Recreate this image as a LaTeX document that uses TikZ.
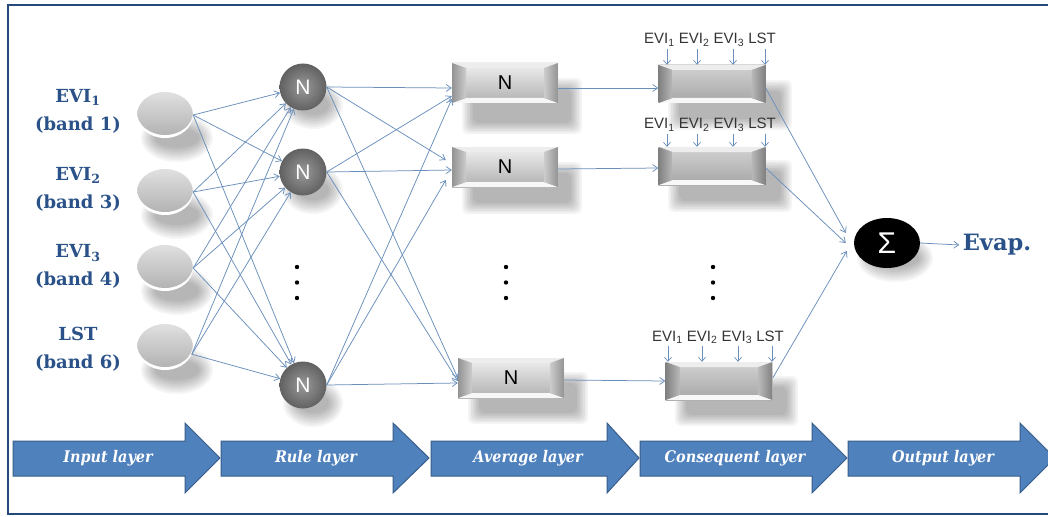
\documentclass[tikz,border=0pt]{standalone}
\usepackage{fontspec}
\setmainfont{Liberation Sans}
\newfontfamily\serifb{DejaVu Serif}
\newfontfamily\serifc{DejaVu Serif}[FakeStretch=0.9]
\newfontfamily\sansf{Liberation Sans}
\usetikzlibrary{calc,arrows.meta,shapes.geometric}
\definecolor{framecol}{HTML}{24497A}
\definecolor{arrowfill}{HTML}{4F81BD}
\definecolor{arrowedge}{HTML}{385D8A}
\definecolor{linkcol}{HTML}{6A8FBB}
\definecolor{labcol}{HTML}{2A5288}

\newcommand\softell[4]{\foreach \k in {0,...,7}{\fill[black,opacity=0.038] (#1,#2) ellipse ({#3-2*\k} and {#4-2*\k});}}
\newcommand\softrect[4]{\foreach \k in {0,...,7}{\fill[black,opacity=0.038,rounded corners=6pt] ({#1+1.6*\k},{#2+1.6*\k}) rectangle ({#3-1.6*\k},{#4-1.6*\k});}}
\newcommand\drawbevel[5]{%
  \path (path picture bounding box.north west) coordinate (bnw)
        (path picture bounding box.north east) coordinate (bne)
        (path picture bounding box.south west) coordinate (bsw)
        (path picture bounding box.south east) coordinate (bse);
  \shade[top color=#1, middle color=#2, bottom color=#3] (bnw) rectangle (bse);
  \fill[gray!14] (bnw) -- (bne) -- ($(bne)+(-14,5)$) -- ($(bnw)+(14,5)$) -- cycle;
  \fill[gray!6] (bsw) -- (bse) -- ($(bse)+(-14,-5)$) -- ($(bsw)+(14,-5)$) -- cycle;
  \shade[left color=#4, right color=#5] (bnw) -- ($(bnw)+(14,5)$) -- ($(bsw)+(14,-5)$) -- (bsw) -- cycle;
  \shade[right color=#4, left color=#5] (bne) -- ($(bne)+(-14,5)$) -- ($(bse)+(-14,-5)$) -- (bse) -- cycle;
}
\newcommand\layerarrow[5]{%
  \fill[arrowfill, draw=arrowedge, line width=1pt] (#1,441) -- (#2,441) -- (#2,423) -- (#3,458) -- (#2,493) -- (#2,476) -- (#1,476) -- cycle;
  \node[layertext] (#4) at ({(#1+#2)/2+9},458.5) {#5};
}

\begin{document}
\begin{tikzpicture}[x=1pt,y=-1pt,
  link/.style={draw=linkcol, line width=0.75pt, -{Straight Barb[length=5pt,width=7pt]}},
  inball/.style={ellipse, minimum width=56pt, minimum height=46pt, inner sep=0pt, fill=white,
     path picture={\shade[top color=gray!22, bottom color=gray!62] ($(path picture bounding box.center)+(0,-3)$) ellipse (28 and 23);}},
  rulen/.style={circle, minimum size=47pt, inner sep=0pt, inner color=black!40, outer color=black!62,
     text=white, font={\sansf\fontsize{21}{21}\selectfont}},
  avgbox/.style={rectangle, minimum width=106pt, minimum height=40pt, inner sep=0pt,
     path picture={\drawbevel{gray!12}{gray!32}{gray!62}{gray!85}{gray!40}},
     font={\sansf\fontsize{20}{20}\selectfont}},
  consbox/.style={rectangle, minimum width=107pt, minimum height=38pt, inner sep=0pt,
     path picture={\drawbevel{gray!35}{gray!95}{gray!70}{gray!100}{gray!55}}},
  sumnode/.style={ellipse, fill=black, minimum width=66pt, minimum height=50pt, inner sep=0pt,
     text=white, font={\sansf\fontsize{30}{30}\selectfont}},
  evap/.style={text=labcol, font={\serifb\bfseries\fontsize{22.5}{22.5}\selectfont}},
  leftlab/.style={align=center, text=labcol, font={\serifb\bfseries\fontsize{18}{28}\selectfont}},
  layertext/.style={text=white, font={\serifc\bfseries\itshape\fontsize{16}{16}\selectfont}},
  smalllab/.style={inner sep=0pt, text=black!80, font={\sansf\fontsize{15}{15}\selectfont}},
  tiny/.style={draw=linkcol, line width=0.7pt, -{Straight Barb[length=4pt,width=7pt]}}
]
\useasboundingbox (0,0) rectangle (1048,516);
\fill[white] (0,0) rectangle (1048,516);

% soft shadows
\softell{177}{138}{36}{24}
\softell{177}{215}{36}{24}
\softell{177}{291}{36}{24}
\softell{177}{370}{36}{24}
\softell{313}{105}{30}{24}
\softell{313}{190}{30}{24}
\softell{313}{403}{30}{24}
\softrect{462}{78}{582}{134}
\softrect{462}{162}{582}{214}
\softrect{468}{372}{588}{424}
\softrect{668}{80}{792}{130}
\softrect{668}{160}{792}{212}
\softrect{675}{376}{798}{426}
\softell{895}{258}{38}{24}

% frame
\draw[framecol, line width=2.8pt] (1060,5) -- (8,5) -- (8,514) -- (1060,514);

% input layer
\node[leftlab] (li1) at (78,111) {EVI\textsubscript{1}\\(band 1)};
\node[leftlab] (li2) at (78,189) {EVI\textsubscript{2}\\(band 3)};
\node[leftlab] (li3) at (78,266.5) {EVI\textsubscript{3}\\(band 4)};
\node[leftlab] (li4) at (78,349) {LST\\(band 6)};
\node[inball] (i1) at (165,115) {};
\node[inball] (i2) at (165,192) {};
\node[inball] (i3) at (165,268) {};
\node[inball] (i4) at (165,347) {};
\coordinate (o1) at (i1.east);
\coordinate (o2) at (i2.east);
\coordinate (o3) at (i3.east);
\coordinate (o4) at (i4.-15);

% rule layer
\node[rulen] (r1) at (303,87) {N};
\node[rulen] (r2) at (303,172) {N};
\node[rulen] (r3) at (303,385) {N};
\fill (297,267) circle (2.2);
\fill (297,282.5) circle (2.2);
\fill (297,298) circle (2.2);

% average layer
\node[avgbox] (a1) at (505,83) {N};
\node[avgbox] (a2) at (505,167) {N};
\node[avgbox] (a3) at (511,378) {N};
\fill (506,267) circle (2.2);
\fill (506,282.5) circle (2.2);
\fill (506,298) circle (2.2);

% consequent layer
\node[consbox] (c1) at (712,84) {};
\node[consbox] (c2) at (712,166) {};
\node[consbox] (c3) at (719,381) {};
\fill (713,267) circle (2.2);
\fill (713,282.5) circle (2.2);
\fill (713,298) circle (2.2);
\node[smalllab] (l1) at (710,40) {EVI\textsubscript{1} EVI\textsubscript{2} EVI\textsubscript{3} LST};
\node[smalllab] (l2) at (710,125) {EVI\textsubscript{1} EVI\textsubscript{2} EVI\textsubscript{3} LST};
\node[smalllab] (l3) at (718,337) {EVI\textsubscript{1} EVI\textsubscript{2} EVI\textsubscript{3} LST};
\foreach \x in {667,697,733,765} \draw[tiny] (l1.south -| \x,0) ++(0,2) -- (c1.north -| \x,0);
\foreach \x in {667,697,733,765} \draw[tiny] (l2.south -| \x,0) ++(0,2) -- (c2.north -| \x,0);
\foreach \x in {668,702,738,772} \draw[tiny] (l3.south -| \x,0) ++(0,2) -- (c3.north -| \x,0);

% output
\node[sumnode] (s) at (887,243) {Σ};
\node[evap] (ev) at (997,245) {Evap.};

% connectors input -> rule
\foreach \i in {1,...,4} \foreach \r in {1,2,3} \draw[link] (o\i) -- (r\r);

% rule -> average
\draw[link] (r1.east) -- ($(a1.west)+(0,5)$);
\draw[link] (r2.east) -- ($(a1.west)+(0,13)$);
\draw[link] (r3.east) -- ($(a1.west)+(0,16)$);
\draw[link] (r1.east) -- ($(a2.west)+(-6,-7)$);
\draw[link] (r2.east) -- ($(a2.west)+(0,3)$);
\draw[link] (r3.east) -- ($(a2.west)+(-6,13)$);
\draw[link] (r1.east) -- ($(a3.west)+(0,0)$);
\draw[link] (r2.east) -- ($(a3.west)+(0,3)$);
\draw[link] (r3.east) -- ($(a3.west)+(0,5)$);

% average -> consequent
\draw[link] ($(a1.east)+(0,5)$) -- ($(c1.west)+(0,4)$);
\draw[link] ($(a2.east)+(0,2)$) -- ($(c2.west)+(0,2)$);
\draw[link] ($(a3.east)+(0,2)$) -- ($(c3.west)+(0,0)$);

% consequent -> sum
\draw[link] ($(c1.east)+(0,4)$) -- ($(s.west)+(-8,-10)$);
\draw[link] ($(c2.east)+(0,2)$) -- ($(s.west)+(-8,0)$);
\draw[link] ($(c3.east)+(0,-3)$) -- ($(s.west)+(-7,8)$);
\draw[link] (s.east) -- (ev.west);

% layer arrows
\layerarrow{13}{185}{220}{t1}{Input layer}
\layerarrow{221}{393}{429}{t2}{Rule layer}
\layerarrow{431}{607}{639}{t3}{Average layer}
\layerarrow{640}{812}{847}{t4}{Consequent layer}
\layerarrow{848}{1020}{1055}{t5}{Output layer}
\end{tikzpicture}
\end{document}
